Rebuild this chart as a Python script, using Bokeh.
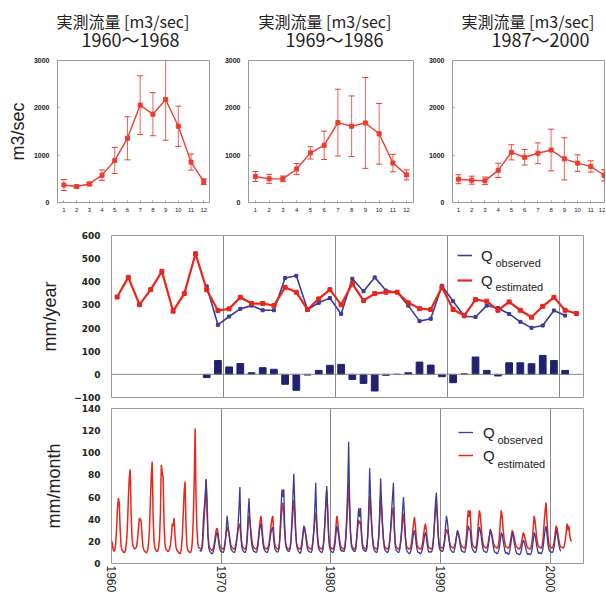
from bokeh.plotting import figure
from bokeh.models import Range1d, FixedTicker, Grid, Span, Label, Legend, LegendItem, Title
from bokeh.layouts import column, row
from bokeh.embed import file_html
from bokeh.resources import INLINE
from bokeh.core.properties import value

# ---------------- data ----------------
months = list(range(1, 13))
title_line1 = "実測流量 [m3/sec]"
period_labels = ["1960～1968", "1969～1986", "1987～2000"]

flow_mean_1 = [370, 337, 392, 578, 888, 1356, 2058, 1865, 2175, 1610, 853, 440]
flow_err_1 = [115, 30, 40, 110, 275, 455, 620, 455, 860, 425, 170, 60]
flow_mean_2 = [549, 500, 500, 708, 1049, 1208, 1688, 1611, 1681, 1451, 833, 583]
flow_err_2 = [105, 95, 60, 115, 130, 300, 705, 640, 960, 640, 185, 105]
flow_mean_3 = [492, 471, 457, 679, 1060, 956, 1040, 1109, 922, 832, 762, 575]
flow_err_3 = [95, 85, 80, 150, 160, 165, 220, 440, 445, 175, 120, 120]

decade_ticks = [1960, 1970, 1980, 1990, 2000]

est_years = list(range(1960, 2002))
est_annual = [334, 419, 301, 366, 445, 273, 349, 521, 366, 276,
              283, 333, 306, 306, 297, 376, 355, 280, 326, 366,
              301, 392, 319, 349, 355, 355, 309, 284, 280, 376,
              280, 254, 323, 316, 277, 313, 277, 247, 294, 333,
              277, 263]
obs_years = list(range(1968, 2001))
obs_annual = [380, 214,
              250, 283, 297, 277, 277, 416, 426, 280, 309, 330,
              261, 413, 359, 419, 362, 355, 297, 230, 240, 383,
              316, 251, 248, 297, 287, 261, 227, 201, 211, 276,
              254]
diff_annual = [-14, 60,
               32, 47, 7, 29, 22, -43, -69, -3, 17, 39,
               43, -22, -39, -72, -4, 0, 7, 53, 40, -10,
               -36, 2, 75, 17, -7, 50, 50, 46, 82, 60,
               17]

est_1960s = [
    [20, 14, 11, 12, 17, 30, 50, 59, 55, 30, 16, 12],
    [11, 10, 10, 13, 20, 35, 60, 78, 85, 45, 22, 16],
    [14, 13, 14, 15, 22, 32, 41, 40, 38, 24, 15, 12],
    [11, 10, 10, 12, 18, 30, 55, 80, 92, 45, 20, 14],
    [12, 11, 11, 14, 22, 45, 89, 82, 78, 35, 17, 13],
    [12, 11, 11, 13, 17, 24, 36, 34, 41, 25, 15, 12],
    [11, 10, 9, 9, 14, 25, 45, 65, 74, 35, 16, 12],
    [11, 10, 10, 12, 20, 40, 75, 122, 60, 30, 18, 14],
    [14, 13, 13, 16, 28, 42, 55, 76, 58, 28, 17, 14],
    [13, 12, 12, 14, 18, 24, 30, 32, 28, 21, 16, 14],
]
est_1970s = [
    [14, 13, 13, 15, 20, 27, 33, 30, 28, 22, 17, 15],
    [14, 13, 13, 15, 19, 25, 30, 34, 36, 25, 18, 15],
    [14, 13, 13, 15, 22, 35, 43, 38, 30, 22, 17, 14],
    [14, 13, 13, 15, 20, 30, 38, 43, 35, 24, 17, 14],
    [14, 13, 13, 15, 19, 26, 34, 40, 43, 28, 18, 15],
    [14, 13, 13, 16, 25, 40, 50, 55, 45, 28, 18, 15],
    [14, 13, 13, 15, 22, 35, 48, 57, 45, 28, 18, 15],
    [14, 13, 13, 15, 20, 27, 33, 30, 26, 21, 16, 14],
    [14, 13, 13, 15, 21, 30, 40, 46, 36, 24, 17, 14],
    [14, 13, 13, 15, 22, 35, 52, 66, 48, 28, 18, 15],
]
est_1980s = [
    [14, 13, 13, 15, 21, 32, 43, 38, 30, 22, 17, 14],
    [14, 13, 13, 16, 24, 38, 55, 73, 50, 28, 18, 15],
    [14, 13, 13, 16, 24, 33, 39, 36, 38, 26, 18, 15],
    [14, 13, 13, 16, 26, 42, 61, 50, 36, 24, 17, 14],
    [14, 13, 13, 16, 25, 40, 61, 50, 35, 23, 17, 14],
    [14, 13, 13, 15, 21, 30, 40, 47, 51, 30, 18, 15],
    [14, 13, 13, 15, 20, 28, 38, 45, 36, 24, 17, 14],
    [14, 13, 13, 15, 20, 28, 36, 42, 34, 23, 17, 14],
    [14, 13, 13, 15, 19, 26, 32, 36, 30, 22, 16, 14],
    [14, 13, 13, 16, 24, 36, 48, 54, 42, 26, 18, 15],
]
est_1990s = [
    [15, 14, 14, 16, 20, 26, 31, 29, 26, 21, 17, 15],
    [15, 14, 14, 16, 19, 24, 28, 27, 24, 20, 17, 15],
    [15, 14, 14, 17, 26, 40, 48, 42, 48, 30, 19, 16],
    [15, 14, 14, 17, 25, 38, 48, 44, 34, 24, 18, 15],
    [15, 14, 14, 16, 20, 25, 30, 28, 25, 20, 17, 15],
    [15, 14, 14, 17, 25, 38, 48, 42, 32, 23, 18, 15],
    [15, 14, 14, 16, 20, 25, 30, 28, 24, 20, 16, 15],
    [14, 13, 13, 15, 18, 23, 28, 26, 23, 19, 16, 14],
    [14, 13, 13, 16, 22, 33, 43, 38, 30, 22, 17, 15],
    [15, 14, 14, 17, 25, 38, 48, 55, 40, 26, 18, 15],
]
est_2000s = [
    [15, 14, 14, 16, 20, 27, 34, 32, 27, 21, 17, 15],
    [15, 14, 14, 16, 21, 28, 36, 30, 34, 25, 21, 20],
]

obs_1960s = [
    [12, 11, 12, 20, 40, 51, 60, 76, 50, 25, 14, 11],
    [10, 9, 9, 11, 15, 20, 26, 28, 24, 18, 13, 11],
]
obs_1970s = [
    [11, 10, 10, 13, 20, 30, 43, 35, 28, 20, 14, 12],
    [11, 10, 10, 12, 17, 25, 35, 50, 69, 30, 15, 12],
    [11, 10, 10, 13, 25, 45, 59, 40, 25, 17, 13, 11],
    [11, 10, 10, 12, 18, 27, 33, 36, 30, 20, 14, 12],
    [11, 10, 10, 12, 16, 22, 28, 31, 33, 22, 14, 12],
    [11, 10, 11, 14, 30, 50, 67, 60, 67, 35, 18, 13],
    [12, 11, 11, 13, 22, 40, 60, 81, 55, 30, 17, 13],
    [11, 10, 9, 11, 17, 26, 34, 32, 26, 18, 13, 11],
    [11, 10, 10, 12, 20, 32, 50, 73, 40, 22, 14, 12],
    [11, 10, 10, 13, 22, 38, 55, 70, 50, 26, 15, 12],
]
obs_1980s = [
    [11, 10, 10, 12, 17, 26, 34, 31, 25, 18, 13, 11],
    [12, 11, 11, 14, 25, 45, 70, 110, 60, 28, 16, 13],
    [12, 11, 11, 14, 25, 40, 50, 42, 50, 30, 16, 12],
    [12, 11, 11, 14, 28, 50, 86, 60, 40, 24, 15, 12],
    [11, 10, 10, 14, 26, 48, 77, 55, 36, 22, 14, 12],
    [11, 10, 10, 13, 20, 32, 48, 60, 73, 35, 16, 12],
    [11, 10, 10, 13, 20, 32, 48, 60, 45, 25, 14, 11],
    [10, 9, 9, 11, 15, 21, 27, 30, 25, 17, 12, 10],
    [10, 9, 9, 11, 14, 19, 25, 28, 24, 17, 12, 10],
    [11, 10, 11, 14, 24, 40, 55, 64, 45, 26, 15, 12],
]
obs_1990s = [
    [12, 11, 11, 14, 22, 33, 43, 38, 30, 21, 14, 12],
    [11, 10, 10, 13, 18, 25, 30, 28, 23, 17, 13, 11],
    [11, 10, 10, 13, 19, 27, 34, 31, 30, 20, 14, 12],
    [11, 10, 10, 13, 19, 27, 33, 30, 25, 18, 13, 11],
    [11, 10, 10, 12, 17, 24, 31, 28, 23, 17, 12, 10],
    [10, 9, 9, 11, 15, 21, 28, 26, 21, 16, 11, 9],
    [10, 9, 8, 10, 15, 21, 28, 25, 20, 15, 11, 9],
    [9, 8, 8, 9, 12, 17, 21, 20, 17, 13, 10, 8],
    [9, 8, 8, 10, 14, 21, 28, 26, 20, 15, 11, 9],
    [10, 9, 9, 11, 16, 24, 30, 34, 27, 18, 13, 11],
]
obs_2000s = [
    [11, 10, 10, 12, 16, 23, 30, 28, 23, 17, 13, 11],
]

# ---------------- styles ----------------
RED_TOP = "#ee3b2e"
RED = "#e8261c"
BLUE = "#3b3b98"
NAVY = "#1f2370"
FRAME = "#9a9a9a"
GRIDC = "#8a8a8a"
TXT = "#222222"
TOP_H = 222


def top_plot(mean, err, period, width, mb_left, mb_right, mb_top, frame_h, xr, off1, off2, ylabel=None):
    p = figure(width=width, height=TOP_H, x_range=Range1d(*xr), y_range=Range1d(0, 3000),
               output_backend="svg", toolbar_location=None,
               min_border_left=mb_left, min_border_right=mb_right,
               min_border_top=mb_top, min_border_bottom=TOP_H - mb_top - frame_h)
    p.grid.visible = False
    p.outline_line_color = FRAME

    p.xaxis.ticker = FixedTicker(ticks=months)
    p.xaxis.major_label_text_font_size = "6px"
    p.xaxis.major_label_text_font = "Liberation Sans"
    p.xaxis.major_label_text_color = TXT
    p.xaxis.major_label_standoff = 5
    p.xaxis.major_tick_in = 2
    p.xaxis.major_tick_out = 0
    p.xaxis.major_tick_line_color = FRAME
    p.xaxis.minor_tick_line_color = None
    p.xaxis.axis_line_color = None

    p.yaxis.ticker = FixedTicker(ticks=[0, 1000, 2000, 3000])
    p.yaxis.major_label_text_font_size = "7px"
    p.yaxis.major_label_text_font = "Liberation Sans"
    p.yaxis.major_label_text_font_style = "bold"
    p.yaxis.major_label_text_color = TXT
    p.yaxis.major_label_standoff = 8
    p.yaxis.major_tick_in = 2
    p.yaxis.major_tick_out = 0
    p.yaxis.major_tick_line_color = FRAME
    p.yaxis.minor_tick_line_color = None
    p.yaxis.axis_line_color = None
    if ylabel:
        p.yaxis.axis_label = ylabel
        p.yaxis.axis_label_text_font = "Liberation Sans"
        p.yaxis.axis_label_text_font_size = "18px"
        p.yaxis.axis_label_text_font_style = "normal"
        p.yaxis.axis_label_text_color = TXT
        p.yaxis.axis_label_standoff = 3

    upper = [m + e for m, e in zip(mean, err)]
    lower = [m - e for m, e in zip(mean, err)]
    p.segment(x0=months, y0=lower, x1=months, y1=upper, line_color=RED_TOP, line_width=1, line_alpha=0.8)
    p.scatter(months, upper, marker="dash", size=6, line_color=RED_TOP, line_width=1)
    p.scatter(months, lower, marker="dash", size=6, line_color=RED_TOP, line_width=1)
    p.line(months, mean, line_color=RED_TOP, line_width=1.4)
    p.scatter(months, mean, marker="square", size=4, color=RED_TOP)

    # first added sits closest to the frame
    p.add_layout(Title(text=period, align="left", offset=off2, text_font="Noto Sans CJK JP",
                       text_font_size="18px", text_font_style="normal", text_color=TXT,
                       standoff=17), "above")
    p.add_layout(Title(text=title_line1, align="left", offset=off1, text_font="Noto Sans CJK JP",
                       text_font_size="16px", text_font_style="normal", text_color=TXT,
                       standoff=-34), "above")
    return p


p1 = top_plot(flow_mean_1, flow_err_1, period_labels[0], 220, 57, 11, 57, 145, (0.5, 12.45),
              -1, 24, ylabel="m3/sec")
p2 = top_plot(flow_mean_2, flow_err_2, period_labels[1], 204, 28, 11, 58, 145, (0.5, 12.5),
              10, 37)
p3 = top_plot(flow_mean_3, flow_err_3, period_labels[2], 181, 28, 0, 60, 144, (0.55, 12.11),
              9, 39)


def style_y(p, ticks, label, label_standoff):
    p.yaxis.ticker = FixedTicker(ticks=ticks)
    p.yaxis.major_label_text_font = "DejaVu Sans"
    p.yaxis.major_label_text_font_style = "bold"
    p.yaxis.major_label_text_font_size = "9px"
    p.yaxis.major_label_text_color = TXT
    p.yaxis.major_label_standoff = 11
    p.yaxis.major_tick_in = 0
    p.yaxis.major_tick_out = 0
    p.yaxis.minor_tick_line_color = None
    p.yaxis.axis_line_color = None
    p.yaxis.axis_label = label
    p.yaxis.axis_label_text_font = "Liberation Sans"
    p.yaxis.axis_label_text_font_size = "18px"
    p.yaxis.axis_label_text_font_style = "normal"
    p.yaxis.axis_label_text_color = TXT
    p.yaxis.axis_label_standoff = label_standoff


def q_legend(p, r_obs, r_est, vx, vy, spacing, standoff, sub_x, sub_y_obs, sub_y_est):
    lg = Legend(items=[LegendItem(label=value("Q"), renderers=[r_obs]),
                       LegendItem(label=value("Q"), renderers=[r_est])],
                location=(vx, vy), orientation="vertical",
                label_text_font="Liberation Sans", label_text_font_size="15px",
                label_text_color=TXT, glyph_width=15, glyph_height=20, label_height=20,
                label_standoff=standoff, spacing=spacing, padding=0, margin=0,
                border_line_color=None, background_fill_alpha=0)
    p.add_layout(lg)
    for txt, yy in (("observed", sub_y_obs), ("estimated", sub_y_est)):
        p.add_layout(Label(x=sub_x, y=yy, x_units="screen", y_units="screen", text=txt,
                           text_font="Liberation Sans", text_font_size="11px",
                           text_color=TXT, text_baseline="alphabetic"))


# ---------------- annual plot ----------------
p4 = figure(width=605, height=180, x_range=Range1d(1960, 2002.14), y_range=Range1d(-100, 600),
            output_backend="svg", toolbar_location=None, x_axis_location=None,
            min_border_left=111, min_border_right=22, min_border_top=13, min_border_bottom=5)
p4.grid.visible = False
p4.outline_line_color = FRAME
style_y(p4, [-100, 0, 100, 200, 300, 400, 500, 600], "mm/year", 11)
p4.add_layout(Grid(dimension=0, ticker=FixedTicker(ticks=decade_ticks), grid_line_color=GRIDC, grid_line_width=1))
p4.add_layout(Span(location=0, dimension="width", line_color=GRIDC, line_width=1))

est_ax = [y + 0.5 for y in est_years]
obs_ax = [y + 0.5 for y in obs_years]
p4.vbar(x=obs_ax, top=diff_annual, width=0.6, color=NAVY)
r_obs4 = p4.line(obs_ax, obs_annual, line_color=BLUE, line_width=1.6)
p4.scatter(obs_ax, obs_annual, marker="square", size=3, color=BLUE)
r_est4 = p4.line(est_ax, est_annual, line_color=RED, line_width=2.2)
p4.scatter(est_ax, est_annual, marker="square", size=4, color=RED)
q_legend(p4, r_obs4, r_est4, 346, 107, 5, 9, 384, 135, 111)

# ---------------- monthly plot ----------------
est_monthly = est_1960s + est_1970s + est_1980s + est_1990s + est_2000s
obs_monthly = obs_1960s + obs_1970s + obs_1980s + obs_1990s + obs_2000s
est_mx = [1960 + i + (m + 0.5) / 12 for i in range(len(est_monthly)) for m in range(12)]
est_my = [v for yr in est_monthly for v in yr]
obs_mx = [1968 + i + (m + 0.5) / 12 for i in range(len(obs_monthly)) for m in range(12)]
obs_my = [v for yr in obs_monthly for v in yr]

p5 = figure(width=605, height=197, x_range=Range1d(1960, 2003.04), y_range=Range1d(0, 140),
            output_backend="svg", toolbar_location=None,
            min_border_left=111, min_border_right=12, min_border_top=6, min_border_bottom=36)
p5.outline_line_color = FRAME
p5.ygrid.visible = False
p5.xaxis.ticker = FixedTicker(ticks=decade_ticks)
p5.xgrid.ticker = FixedTicker(ticks=decade_ticks)
p5.xgrid.grid_line_color = GRIDC
p5.xaxis.major_label_orientation = "vertical"
p5.xaxis.major_label_text_font = "Liberation Sans"
p5.xaxis.major_label_text_font_size = "12px"
p5.xaxis.major_label_text_color = TXT
p5.xaxis.major_label_standoff = 2
p5.xaxis.major_tick_in = 0
p5.xaxis.major_tick_out = 0
p5.xaxis.minor_tick_line_color = None
p5.xaxis.axis_line_color = None
style_y(p5, [0, 20, 40, 60, 80, 100, 120, 140], "mm/month", 15)

r_est5 = p5.line(est_mx, est_my, line_color=RED, line_width=1.5)
r_obs5 = p5.line(obs_mx, obs_my, line_color=BLUE, line_width=1.3)
q_legend(p5, r_obs5, r_est5, 347, 98, 3, 10, 386, 124, 100)

layout = column(row(p1, p2, p3), p4, p5)
open("out.html", "w").write(file_html(layout, INLINE))
